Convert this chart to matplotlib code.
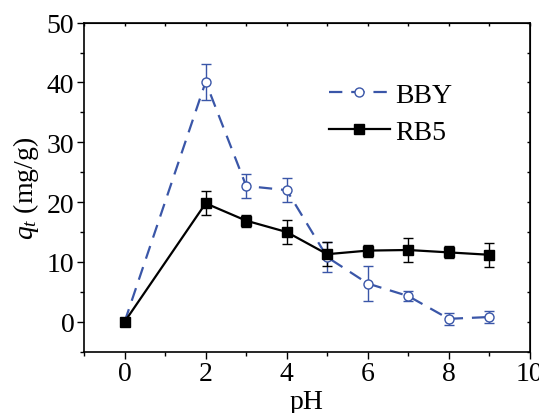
import matplotlib.pyplot as plt
from matplotlib import font_manager
from matplotlib.ticker import MultipleLocator

# pick a Times-like face if one is installed
serif = 'DejaVu Serif'
for f in font_manager.fontManager.ttflist:
    if f.name in ('Liberation Serif', 'Times New Roman', 'Nimbus Roman'):
        serif = f.name
        break

plt.rcParams['font.family'] = 'serif'
plt.rcParams['font.serif'] = [serif, 'DejaVu Serif']
plt.rcParams['mathtext.fontset'] = 'custom'
plt.rcParams['mathtext.it'] = serif + ':italic'
plt.rcParams['mathtext.rm'] = serif

ph = [0, 2, 3, 4, 5, 6, 7, 8, 9]
bby = [0, 40.1, 22.7, 22.0, 10.8, 6.4, 4.3, 0.5, 0.8]
bby_err = [0, 3.0, 2.0, 2.0, 2.5, 3.0, 0.9, 1.0, 1.0]
rb5 = [0, 19.8, 16.9, 15.0, 11.3, 11.9, 12.0, 11.6, 11.2]
rb5_err = [0, 2.0, 1.0, 2.0, 2.0, 1.0, 2.0, 1.0, 2.0]

blue = '#3a56a8'

fig = plt.figure(figsize=(5.39, 4.14), dpi=100)
ax = fig.add_axes([0.156, 0.148, 0.827, 0.795])

ax.errorbar(ph, bby, yerr=bby_err, color=blue, ls=(0, (6, 4)), lw=1.6,
            marker='o', ms=6.5, mfc='white', mec=blue, mew=1,
            elinewidth=1, capsize=3.5, capthick=1, label='BBY')
ax.errorbar(ph, rb5, yerr=rb5_err, color='black', ls='-', lw=1.6,
            marker='s', ms=6.5, mfc='black', mec='black',
            elinewidth=1, capsize=3.5, capthick=1, label='RB5')

ax.set_xlim(-1, 10)
ax.set_ylim(-5, 50)
ax.xaxis.set_major_locator(MultipleLocator(2))
ax.xaxis.set_minor_locator(MultipleLocator(1))
ax.yaxis.set_major_locator(MultipleLocator(10))
ax.yaxis.set_minor_locator(MultipleLocator(5))

ax.tick_params(which='both', labelsize=20, width=1, pad=2)
ax.tick_params(which='major', length=5)
ax.tick_params(which='minor', length=3)
for s in ax.spines.values():
    s.set_linewidth(1.2)

# mirrored axes with tiny inward ticks, like the original
top = ax.secondary_xaxis('top')
top.xaxis.set_major_locator(MultipleLocator(1))
top.tick_params(direction='in', length=2, width=1, labeltop=False)
right = ax.secondary_yaxis('right')
right.yaxis.set_major_locator(MultipleLocator(5))
right.tick_params(direction='in', length=2, width=1, labelright=False)

ax.set_xlabel('pH', fontsize=20, labelpad=2)
ax.set_ylabel('$q_t$ (mg/g)', fontsize=20, labelpad=4)

handles, labels = ax.get_legend_handles_labels()
handles = [h[0] for h in handles]
ax.legend(handles, labels, loc='upper left', bbox_to_anchor=(0.518, 0.86),
          frameon=False, fontsize=20, handlelength=2.2, handletextpad=0.2,
          labelspacing=0.4, borderpad=0)

fig.savefig('out.png', dpi=100)
